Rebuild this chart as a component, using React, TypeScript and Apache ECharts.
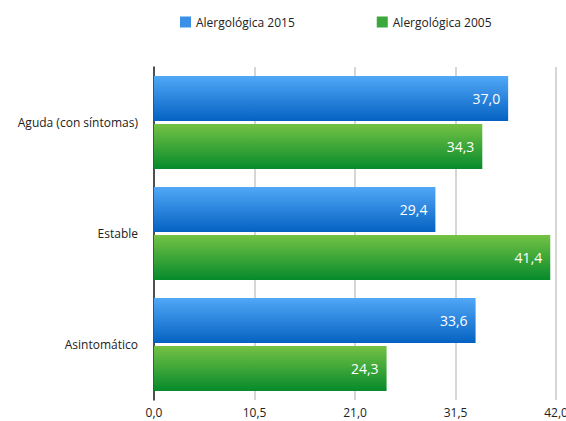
import React, { useEffect, useRef } from "react";
import * as echarts from "echarts";

const categories = ["Aguda (con síntomas)", "Estable", "Asintomático"];
const series2015 = [37.0, 29.4, 33.6];
const series2005 = [34.3, 41.4, 24.3];
const seriesNames = ["Alergológica 2015", "Alergológica 2005"];
const xTicks = { min: 0, max: 42, interval: 10.5 };

const FONT = "'Open Sans', 'Noto Sans', sans-serif";

const fmt = (v: number) => v.toFixed(1).replace(".", ",");

export default function App() {
  const ref = useRef<HTMLDivElement>(null);
  useEffect(() => {
    if (!ref.current) return;
    const chart = echarts.init(ref.current, undefined, { renderer: "svg" });
    const blue = new echarts.graphic.LinearGradient(0, 0, 0, 1, [
      { offset: 0, color: "#51a8f7" },
      { offset: 1, color: "#0562c2" },
    ]);
    const green = new echarts.graphic.LinearGradient(0, 0, 0, 1, [
      { offset: 0, color: "#74c244" },
      { offset: 1, color: "#068a2c" },
    ]);
    const label = {
      show: true,
      position: "insideRight" as const,
      distance: 8,
      color: "#ffffff",
      fontSize: 14,
      fontFamily: FONT,
      formatter: (p: any) => fmt(p.value),
    };
    chart.setOption({
      animation: false,
      legend: {
        top: 11,
        left: 175,
        itemWidth: 11,
        itemHeight: 11,
        itemGap: 82,
        icon: "rect",
        textStyle: { fontFamily: FONT, fontSize: 12, color: "#222" },
        data: [
          { name: seriesNames[0], itemStyle: { color: "#3a8fe6" } },
          { name: seriesNames[1], itemStyle: { color: "#3aa83a" } },
        ],
      },
      grid: {
        left: 154,
        right: 10,
        top: 67,
        bottom: 21,
        containLabel: false,
        outerBoundsMode: "none",
      },
      xAxis: {
        type: "value",
        min: xTicks.min,
        max: xTicks.max,
        interval: xTicks.interval,
        axisLine: { show: false },
        axisTick: { show: false },
        splitLine: { show: true, lineStyle: { color: "#c8c8c8", width: 1.5 } },
        axisLabel: {
          fontFamily: FONT,
          fontSize: 12,
          color: "#222",
          margin: 6,
          formatter: (v: number) => fmt(v),
        },
      },
      yAxis: {
        type: "category",
        inverse: true,
        data: categories,
        axisLine: { show: true, lineStyle: { color: "#222", width: 1.5 } },
        axisTick: { show: false },
        axisLabel: { fontFamily: FONT, fontSize: 12, color: "#222", margin: 16 },
      },
      series: [
        {
          name: seriesNames[0],
          type: "bar",
          data: series2015,
          barWidth: 45,
          barGap: "7%",
          itemStyle: { color: blue },
          label,
        },
        {
          name: seriesNames[1],
          type: "bar",
          data: series2005,
          barWidth: 45,
          barGap: "7%",
          itemStyle: { color: green },
          label,
        },
      ],
    });
    return () => chart.dispose();
  }, []);
  return <div ref={ref} style={{ width: 566, height: 421, position: "absolute", left: 0, top: 0 }} />;
}
